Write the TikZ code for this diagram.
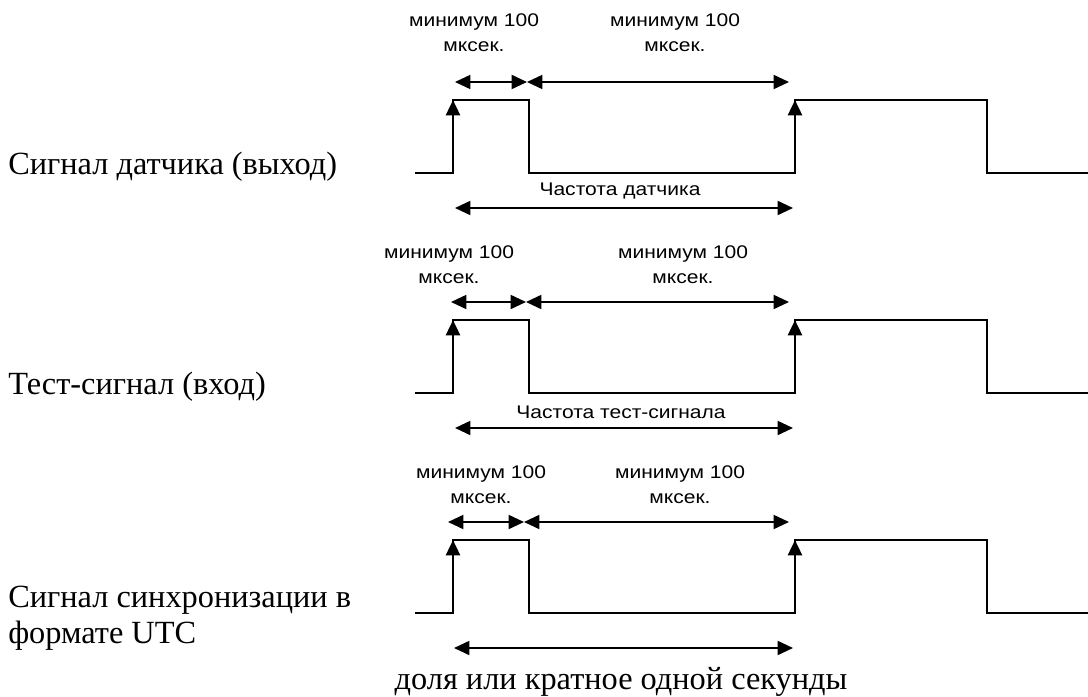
\documentclass[tikz,border=0pt]{standalone}
\usepackage{fontspec}
\setmainfont{Liberation Serif}
\setsansfont{Liberation Sans}
\newfontfamily\widesans[FakeStretch=1.15]{Liberation Sans}
\usetikzlibrary{arrows.meta}
\tikzset{
  wave/.style={line width=1.9pt},
  edgearrow/.style={line width=1.9pt, -{Triangle[length=11pt,width=10pt]}},
  dim/.style={line width=1.4pt, {Triangle[length=11pt,width=10pt]}-{Triangle[length=11pt,width=10pt]}},
  small/.style={font=\widesans\fontsize{13}{17.5}\selectfont, align=center, inner sep=0pt},
  big/.style={font=\fontsize{23}{25.5}\selectfont, align=left, inner sep=0pt},
}
\begin{document}
\begin{tikzpicture}[x=0.025cm, y=-0.025cm]
  \useasboundingbox (0,0) rectangle (1088,697);
  % three signals, one under the other
  \foreach \r/\dy/\da/\dm/\pa in {1/0/455/527/455, 2/220/451/526/455, 3/440/448/524/454}{
    \draw[wave] (415,173+\dy) -| (453,100+\dy) -| (529,173+\dy) -| (795,100+\dy)
      -| (987,173+\dy) -- (1088,173+\dy);
    \coordinate (upA\r) at (453,173+\dy);
    \coordinate (topA\r) at (453,100+\dy);
    \coordinate (upB\r) at (795,173+\dy);
    \coordinate (topB\r) at (795,100+\dy);
    \draw[edgearrow] (upA\r) -- (topA\r);
    \draw[edgearrow] (upB\r) -- (topB\r);
    % minimum widths
    \coordinate (dA\r) at (\da,82+\dy);
    \coordinate (dM\r) at (\dm,82+\dy);
    \coordinate (dE\r) at (789,82+\dy);
    \draw[dim] (dA\r) -- (dM\r);
    \draw[dim] (dM\r) -- (dE\r);
    % period
    \coordinate (pA\r) at (\pa,208+\dy);
    \coordinate (pE\r) at (793,208+\dy);
    \draw[dim] (pA\r) -- (pE\r);
  }
  \node[small] (min1a) at (474,33) {минимум 100\\мксек.};
  \node[small] (min1b) at (675,33) {минимум 100\\мксек.};
  \node[small] (min2a) at (449,265) {минимум 100\\мксек.};
  \node[small] (min2b) at (683,265) {минимум 100\\мксек.};
  \node[small] (min3a) at (481,485) {минимум 100\\мксек.};
  \node[small] (min3b) at (680,485) {минимум 100\\мксек.};
  \node[small] (freq1) at (620,191) {Частота датчика};
  \node[small] (freq2) at (621,412) {Частота тест-сигнала};
  \node[big, anchor=west] (lab1) at (8,167) {Сигнал датчика (выход)};
  \node[big, anchor=west] (lab2) at (8,387) {Тест-сигнал (вход)};
  \node[big, anchor=west] (lab3) at (8,618) {Сигнал синхронизации в\\формате UTC};
  \node[big] (sec) at (621,682) {доля или кратное одной секунды};
\end{tikzpicture}
\end{document}
